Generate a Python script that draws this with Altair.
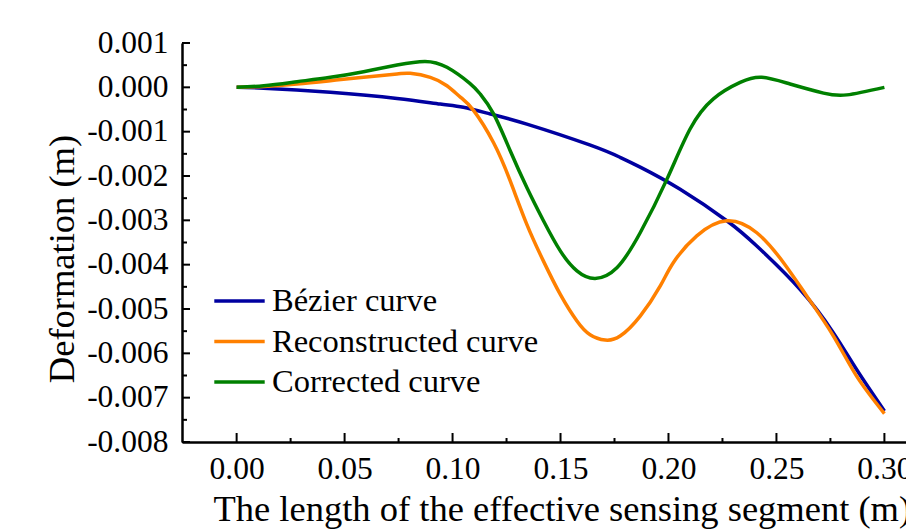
import altair as alt
import pandas as pd

series_names = ["Bézier curve", "Reconstructed curve", "Corrected curve"]
series_colors = ["#0000A0", "#FF8000", "#008000"]

bezier_x = [0.0, 0.0125, 0.0434, 0.0743, 0.0943, 0.105, 0.1175, 0.1344, 0.1635, 0.1776,
            0.1869, 0.2054, 0.227, 0.2409, 0.261, 0.2764, 0.2872, 0.30]
bezier_y = [0.0, -0.00002, -0.000113, -0.00025, -0.000377, -0.00045, -0.0006, -0.00083, -0.0013, -0.00158,
            -0.0018, -0.0023, -0.00301, -0.00358, -0.00456, -0.00554, -0.00637, -0.0073]

recon_x = [0.0, 0.0126, 0.028, 0.0434, 0.0588, 0.0743, 0.0804, 0.0897, 0.0974, 0.1036,
           0.1097, 0.119, 0.1267, 0.1344, 0.1421, 0.1499, 0.1576, 0.1637, 0.1707, 0.1776,
           0.1869, 0.1962, 0.2023, 0.2131, 0.227, 0.2409, 0.2532, 0.2641, 0.2764, 0.2872,
           0.30]
recon_y = [0.0, 0.00002, 0.000075, 0.00015, 0.000226, 0.0003, 0.000316, 0.000226, 0.000036, -0.00022,
           -0.00052, -0.00125, -0.00211, -0.00309, -0.00392, -0.00467, -0.00527, -0.00558, -0.0057, -0.00561,
           -0.00516, -0.00448, -0.00395, -0.00335, -0.00301, -0.00328, -0.00395, -0.00471, -0.00561, -0.00652,
           -0.00736]

corr_x = [0.0, 0.0126, 0.028, 0.0434, 0.0588, 0.0743, 0.0872, 0.0974, 0.108, 0.1128,
          0.119, 0.1267, 0.1344, 0.1421, 0.1499, 0.1576, 0.166, 0.1761, 0.1869, 0.1993,
          0.21, 0.2208, 0.2332, 0.2432, 0.2563, 0.2718, 0.2826, 0.30]
corr_y = [0.0, 0.000036, 0.000127, 0.000226, 0.000353, 0.000504, 0.000585, 0.000452, 0.00009, -0.00015,
          -0.0006, -0.00143, -0.00226, -0.00301, -0.00369, -0.00414, -0.00431, -0.00407, -0.00328, -0.00207,
          -0.00094, -0.00026, 0.00011, 0.000226, 0.000075, -0.00013, -0.00017, 0.0]

x_major = [0.0, 0.05, 0.10, 0.15, 0.20, 0.25, 0.30]
x_minor = [0.025, 0.075, 0.125, 0.175, 0.225, 0.275]
y_major = [0.001, 0.0, -0.001, -0.002, -0.003, -0.004, -0.005, -0.006, -0.007, -0.008]
y_minor = [0.0005, -0.0005, -0.0015, -0.0025, -0.0035, -0.0045, -0.0055, -0.0065, -0.0075]

rows = []
for name, xs, ys in [(series_names[0], bezier_x, bezier_y),
                     (series_names[1], recon_x, recon_y),
                     (series_names[2], corr_x, corr_y)]:
    for xv, yv in zip(xs, ys):
        rows.append({"series": name, "x": xv, "y": yv})
df = pd.DataFrame(rows)

W, H = 724, 399
FONT = "Liberation Serif"

xscale = alt.Scale(domain=[-0.0253, 0.31], nice=False, zero=False)
yscale = alt.Scale(domain=[-0.008, 0.001], nice=False, zero=False)

lines = alt.Chart(df).mark_line(strokeWidth=3.5, interpolate="natural").encode(
    x=alt.X("x:Q", scale=xscale,
            axis=alt.Axis(orient="bottom", values=x_major, format=".2f", ticks=False, tickSize=0,
                          labelPadding=11, labelFontSize=31.5, labelFlush=False, labelOverlap=False,
                          grid=False, domainColor="black", domainWidth=2.5,
                          title="The length of the effective sensing segment (m)",
                          titleFontSize=36.5, titleX=31, titleY=78, titleAlign="left",
                          titleBaseline="alphabetic")),
    y=alt.Y("y:Q", scale=yscale,
            axis=alt.Axis(orient="left", values=y_major,
                          labelExpr="(datum.value < 0 ? '-' : '') + format(abs(datum.value), '.3f')",
                          ticks=False, tickSize=0, labelPadding=14, labelFontSize=31.5,
                          labelFlush=False, labelOverlap=False,
                          grid=False, domainColor="black", domainWidth=2.5,
                          title="Deformation (m)", titleFontSize=36.5, titleAngle=270,
                          titleX=-109, titleY=215.5, titleAlign="center", titleBaseline="alphabetic")),
    color=alt.Color("series:N", sort=series_names,
                    scale=alt.Scale(domain=series_names, range=series_colors),
                    legend=alt.Legend(title=None, orient="none", legendX=34.5, legendY=235,
                                      symbolType="M-1.2,0H1.2", symbolSize=1764,
                                      symbolStrokeWidth=3.5, labelFontSize=32.5, labelOffset=9.5,
                                      rowPadding=0.5, padding=0, labelFont=FONT, labelColor="black",
                                      labelLimit=400)),
)


def y_tick_layer(values, length):
    return alt.Chart(pd.DataFrame({"y": values})).mark_rule(color="black", strokeWidth=2).encode(
        y=alt.Y("y:Q", scale=yscale),
        x=alt.value(0), x2=alt.value(length),
    )


def x_tick_layer(values, length):
    return alt.Chart(pd.DataFrame({"x": values})).mark_rule(color="black", strokeWidth=2).encode(
        x=alt.X("x:Q", scale=xscale),
        y=alt.value(H), y2=alt.value(H - length),
    )


chart = alt.layer(
    lines,
    y_tick_layer(y_major, 8), y_tick_layer(y_minor, 5),
    x_tick_layer(x_major, 9), x_tick_layer(x_minor, 4),
).properties(
    width=W, height=H,
    autosize=alt.AutoSizeParams(type="none"),
    padding={"left": 182, "top": 43, "right": 0, "bottom": 88},
    background="white",
).configure_view(stroke=None).configure_axis(
    labelFont=FONT, titleFont=FONT, labelColor="black", titleColor="black",
    titleFontWeight="normal",
).configure_legend(labelFont=FONT)

chart.save("out.html", embed_options={"renderer": "svg", "actions": False})
